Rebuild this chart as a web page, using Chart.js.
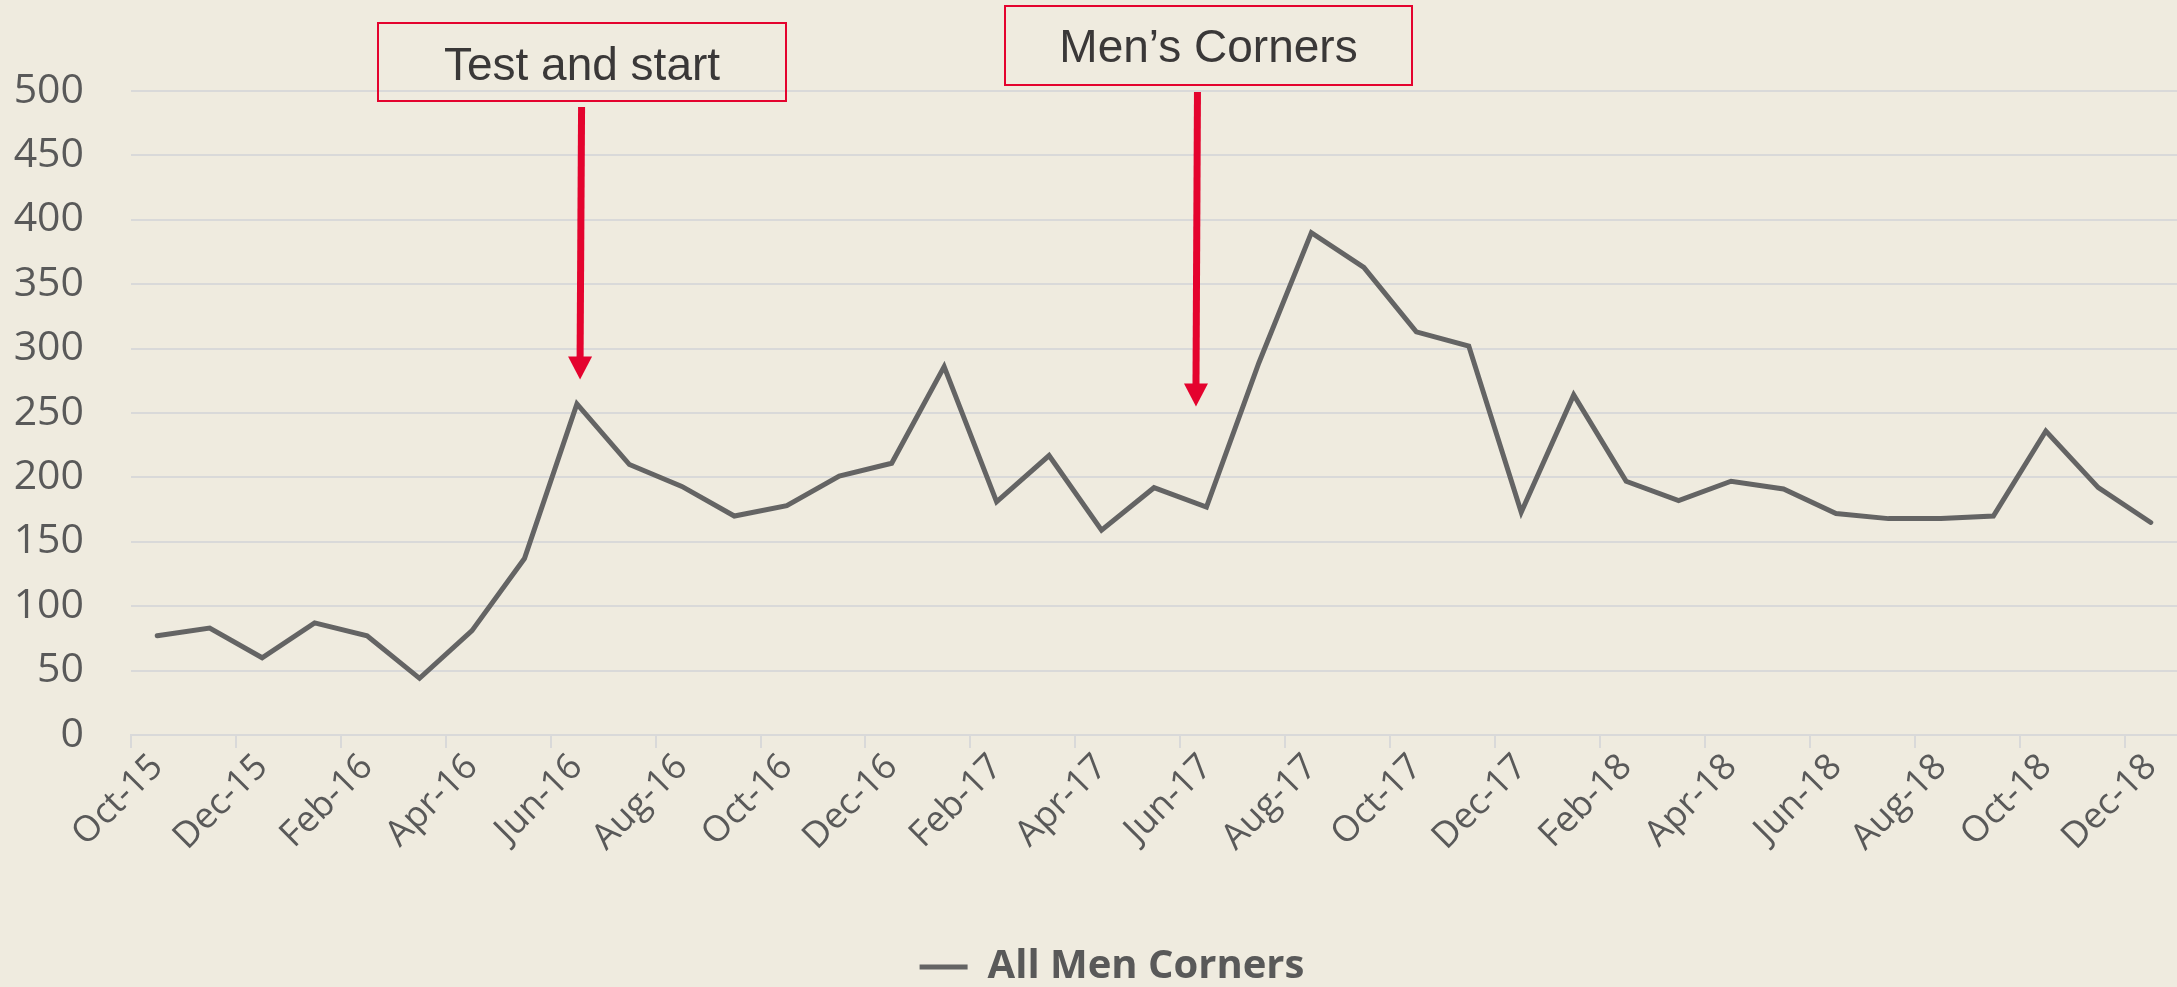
<!DOCTYPE html>
<html>
<head>
<meta charset="utf-8">
<script src="https://cdn.jsdelivr.net/npm/chart.js@4/dist/chart.umd.min.js"></script>
<style>
  html, body { margin: 0; padding: 0; background: #efebdf; }
  #wrap { width: 2177px; height: 987px; }
</style>
</head>
<body>
<div id="wrap"><canvas id="c" width="2177" height="987"></canvas></div>
<script>
// ---- data ----
const months = [
  "Oct-15","Nov-15","Dec-15",
  "Jan-16","Feb-16","Mar-16","Apr-16","May-16","Jun-16","Jul-16","Aug-16","Sep-16","Oct-16","Nov-16","Dec-16",
  "Jan-17","Feb-17","Mar-17","Apr-17","May-17","Jun-17","Jul-17","Aug-17","Sep-17","Oct-17","Nov-17","Dec-17",
  "Jan-18","Feb-18","Mar-18","Apr-18","May-18","Jun-18","Jul-18","Aug-18","Sep-18","Oct-18","Nov-18","Dec-18"
];
const allMenCorners = [
  77, 83, 60, 87, 77, 44, 81, 137, 257, 210,
  193, 170, 178, 201, 211, 286, 181, 217, 159, 192,
  177, 289, 390, 363, 313, 302, 173, 264, 197, 182,
  197, 191, 172, 168, 168, 170, 236, 192, 165
];
const seriesName = "All Men Corners";
const yTicks = [0, 50, 100, 150, 200, 250, 300, 350, 400, 450, 500];
const annotationTexts = ["Test and start", "Men\u2019s Corners"];

// ---- styles ----
const LINE = '#646464';
const GRID = '#d9d9d9';
const TXT = '#595959';
const RED = '#e4032e';

const annotationPlugin = {
  id: 'annot',
  afterDraw(chart) {
    const ctx = chart.ctx;
    const x = chart.scales.x, y = chart.scales.y;
    const boxes = [
      { text: annotationTexts[0], l: 378, t: 23, r: 786, b: 101, base: 80, ax: x.getPixelForValue(8.06), ay0: 107, tipVal: 276 },
      { text: annotationTexts[1], l: 1005, t: 6, r: 1412, b: 85, base: 62, ax: x.getPixelForValue(19.8), ay0: 92, tipVal: 255 }
    ];
    ctx.save();
    boxes.forEach(bx => {
      ctx.strokeStyle = RED;
      ctx.lineWidth = 2;
      ctx.strokeRect(bx.l, bx.t, bx.r - bx.l, bx.b - bx.t);
      ctx.fillStyle = '#3a3838';
      ctx.font = '46px "Liberation Sans", Arial, sans-serif';
      ctx.textAlign = 'center';
      ctx.textBaseline = 'alphabetic';
      ctx.fillText(bx.text, (bx.l + bx.r) / 2, bx.base);
      // arrow
      const tipY = y.getPixelForValue(bx.tipVal);
      const headH = 23, headW = 24;
      ctx.strokeStyle = RED;
      ctx.lineWidth = 7;
      ctx.beginPath();
      ctx.moveTo(bx.ax + 1.5, bx.ay0);
      ctx.lineTo(bx.ax, tipY - headH + 2);
      ctx.stroke();
      ctx.fillStyle = RED;
      ctx.beginPath();
      ctx.moveTo(bx.ax - headW / 2, tipY - headH);
      ctx.lineTo(bx.ax + headW / 2, tipY - headH);
      ctx.lineTo(bx.ax, tipY);
      ctx.closePath();
      ctx.fill();
    });
    ctx.restore();
  }
};

const bgPlugin = {
  id: 'bg',
  beforeDraw(chart) {
    const ctx = chart.ctx;
    ctx.save();
    ctx.fillStyle = '#efebdf';
    ctx.fillRect(0, 0, chart.width, chart.height);
    ctx.restore();
  }
};

// shift the legend box so its centre matches the reference
const legendShift = {
  id: 'legendShift',
  afterLayout(chart) {
    const lg = chart.legend;
    if (!lg) return;
    lg.left = 47;
    lg.top += 10;
    lg.bottom += 10;
  }
};

new Chart(document.getElementById('c'), {
  type: 'line',
  data: {
    labels: months,
    datasets: [{
      label: seriesName,
      data: allMenCorners,
      borderColor: LINE,
      backgroundColor: LINE,
      borderWidth: 5,
      borderCapStyle: 'round',
      pointRadius: 0,
      pointHoverRadius: 0,
      tension: 0,
      fill: false
    }]
  },
  options: {
    responsive: false,
    animation: false,
    devicePixelRatio: 1,
    layout: { padding: { left: 0, right: 0, top: 91, bottom: 0 } },
    plugins: {
      tooltip: { enabled: false },
      legend: {
        position: 'bottom',
        align: 'center',
        labels: {
          usePointStyle: true,
          pointStyle: 'line',
          pointStyleWidth: 48,
          boxHeight: 40,
          padding: 10,
          color: TXT,
          font: { family: '"Open Sans", sans-serif', size: 40, weight: 'bold' }
        }
      }
    },
    scales: {
      x: {
        type: 'category',
        offset: true,
        afterFit(scale) { scale.height = 192; scale.paddingLeft = 0; scale.paddingRight = 0; },
        grid: {
          offset: true,
          drawOnChartArea: false,
          drawTicks: true,
          tickLength: 13,
          lineWidth: 2,
          color: (c) => (c.index % 2 === 0 ? GRID : 'rgba(0,0,0,0)')
        },
        border: { display: true, color: GRID, width: 2 },
        ticks: {
          autoSkip: false,
          maxRotation: 45,
          minRotation: 45,
          padding: -2,
          color: TXT,
          font: { family: '"Open Sans", sans-serif', size: 36 },
          callback: (v, i) => (i % 2 === 0 ? months[i] : '')
        }
      },
      y: {
        min: 0,
        max: 500,
        afterFit(scale) { scale.width = 131; },
        afterBuildTicks(scale) { scale.ticks = yTicks.map(v => ({ value: v })); },
        grid: { color: GRID, lineWidth: 2, drawTicks: false },
        border: { display: false },
        ticks: {
          stepSize: 50,
          padding: 47,
          color: TXT,
          font: { family: '"Open Sans", sans-serif', size: 41 }
        }
      }
    }
  },
  plugins: [bgPlugin, legendShift, annotationPlugin]
});
</script>
</body>
</html>
